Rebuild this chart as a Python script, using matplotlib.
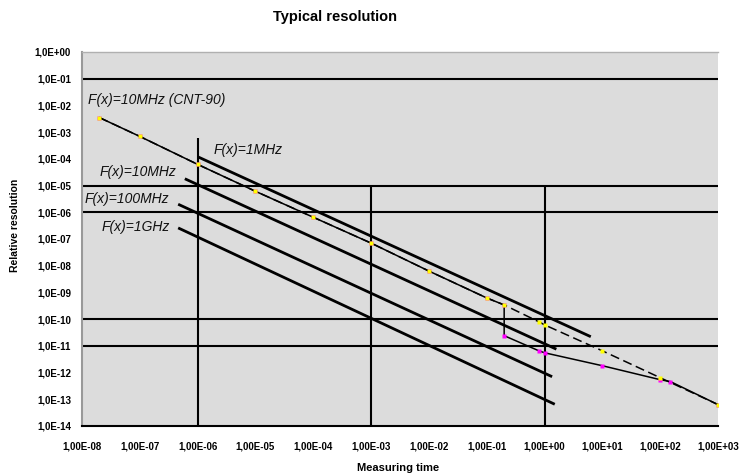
import matplotlib
matplotlib.use("Agg")
from matplotlib import pyplot as plt
from matplotlib.ticker import FixedLocator, FixedFormatter, NullFormatter

plt.rcParams['font.family'] = ['Liberation Sans', 'DejaVu Sans']

cnt_tau_lo = [2e-8, 1e-7, 1e-6, 1e-5, 1e-4, 1e-3, 1e-2, 1e-1, 0.2, 0.2, 0.8, 1.0, 10, 100, 150, 1000]
cnt_res_lo = [3.5e-3, 6.9e-4, 6.2e-5, 6.1e-6, 6.5e-7, 7.0e-8, 6.3e-9, 6.2e-10, 3.4e-10, 2.4e-11,
              6.5e-12, 5.5e-12, 1.8e-12, 5.4e-13, 4.6e-13, 6.3e-14]
cnt_tau_hi = [2e-8, 1e-7, 1e-6, 1e-5, 1e-4, 1e-3, 1e-2, 1e-1, 0.2, 0.8, 1.0, 10, 100, 1000]
cnt_res_hi = [3.5e-3, 6.9e-4, 6.2e-5, 6.1e-6, 6.5e-7, 7.0e-8, 6.3e-9, 6.2e-10, 3.4e-10, 7.9e-11,
              6.1e-11, 6.5e-12, 6.4e-13, 6.3e-14]

# straight lines for the different input frequencies
f1m_tau = [1e-6, 6.3]
f1m_res = [1.2e-4, 2.2e-11]
f10m_tau = [6e-7, 1.6]
f10m_res = [1.8e-5, 7.5e-12]
f100m_tau = [4.6e-7, 1.35]
f100m_res = [2e-6, 7e-13]
f1g_tau = [4.6e-7, 1.5]
f1g_res = [2.6e-7, 6.5e-14]

# grid lines that are drawn in the original
h_lines = [1e-1, 1e-5, 1e-6, 1e-10, 1e-11]
v_lines = [1e-6, 1e-3, 1.0]
v_tops = [6e-4, 1e-5, 1e-5]

x_ticks = [1e-8, 1e-7, 1e-6, 1e-5, 1e-4, 1e-3, 1e-2, 1e-1, 1e0, 1e1, 1e2, 1e3]
x_labels = ['1,00E-08', '1,00E-07', '1,00E-06', '1,00E-05', '1,00E-04', '1,00E-03',
            '1,00E-02', '1,00E-01', '1,00E+00', '1,00E+01', '1,00E+02', '1,00E+03']
y_ticks = [10.0 ** -k for k in range(0, 15)]
y_labels = ['1,0E+00'] + ['1,0E-%02d' % k for k in range(1, 15)]

fig = plt.figure(figsize=(7.54, 4.74), dpi=100)
ax = fig.add_axes([0.1088, 0.1013, 0.8435, 0.789])
ax.set_facecolor('#dcdcdc')
ax.set_xscale('log')
ax.set_yscale('log')
ax.set_xlim(1e-8, 1e3)
ax.set_ylim(1e-14, 1e0)

# grid
ax.hlines(h_lines, 1e-8, 1e3, colors='black', lw=1.5, zorder=2)
ax.vlines(v_lines, 1e-14, v_tops, colors='black', lw=1.5, zorder=2)

# frequency lines
for t, r in [(f1m_tau, f1m_res), (f10m_tau, f10m_res), (f100m_tau, f100m_res), (f1g_tau, f1g_res)]:
    ax.plot(t, r, color='black', lw=2.0, solid_capstyle='butt', zorder=3)

# CNT-90
ax.plot(cnt_tau_lo, cnt_res_lo, color='black', lw=1.1, marker='s', ms=2.5,
        mfc='#ff00ff', mec='none', zorder=4)
ax.plot(cnt_tau_hi, cnt_res_hi, color='black', lw=1.1, dashes=(6, 3), marker='s', ms=2.5,
        mfc='#ffff00', mec='none', zorder=5)

# labels in the plot
lab = dict(fontsize=10, style='italic', ha='left', va='center', color='#111111')
ax.text(1.26e-8, 1.65e-2, 'F(x)=10MHz (CNT-90)', **lab)
ax.text(1.86e-6, 2.2e-4, 'F(x)=1MHz', **lab)
ax.text(2.05e-8, 3.1e-5, 'F(x)=10MHz', **lab)
ax.text(1.1e-8, 3.1e-6, 'F(x)=100MHz', **lab)
ax.text(2.2e-8, 2.8e-7, 'F(x)=1GHz', **lab)

# ticks
ax.xaxis.set_major_locator(FixedLocator(x_ticks))
ax.xaxis.set_major_formatter(FixedFormatter(x_labels))
ax.xaxis.set_minor_locator(FixedLocator(v_lines))
ax.xaxis.set_minor_formatter(NullFormatter())
ax.yaxis.set_major_locator(FixedLocator(y_ticks))
ax.yaxis.set_major_formatter(FixedFormatter(y_labels))
ax.yaxis.set_minor_locator(FixedLocator(h_lines + [1e0, 1e-14]))
ax.yaxis.set_minor_formatter(NullFormatter())
ax.tick_params(axis='both', which='major', length=0, labelsize=7)
ax.tick_params(axis='x', which='major', pad=11)
ax.tick_params(axis='y', which='major', pad=8)
ax.tick_params(axis='x', which='minor', length=10, width=1.5, color='black')
ax.tick_params(axis='y', which='minor', length=5, width=1.5, color='black')
for t in ax.get_xticklabels() + ax.get_yticklabels():
    t.set_fontweight('bold')

ax.spines['right'].set_visible(False)
ax.spines['top'].set_color('#b0b0b0')
ax.spines['top'].set_linewidth(1.0)
ax.spines['left'].set_color('#999999')
ax.spines['left'].set_linewidth(1.5)
ax.spines['bottom'].set_color('black')
ax.spines['bottom'].set_linewidth(1.5)

fig.text(273 / 754, 0.964, 'Typical resolution', fontsize=10.5, fontweight='bold', ha='left', va='center')
fig.text(0.528, 0.012, 'Measuring time', fontsize=8, fontweight='bold', ha='center', va='center')
fig.text(0.02, 0.525, 'Relative resolution', fontsize=7.5, fontweight='bold', rotation=90,
         ha='center', va='center')

fig.savefig('out.png', dpi=100)
